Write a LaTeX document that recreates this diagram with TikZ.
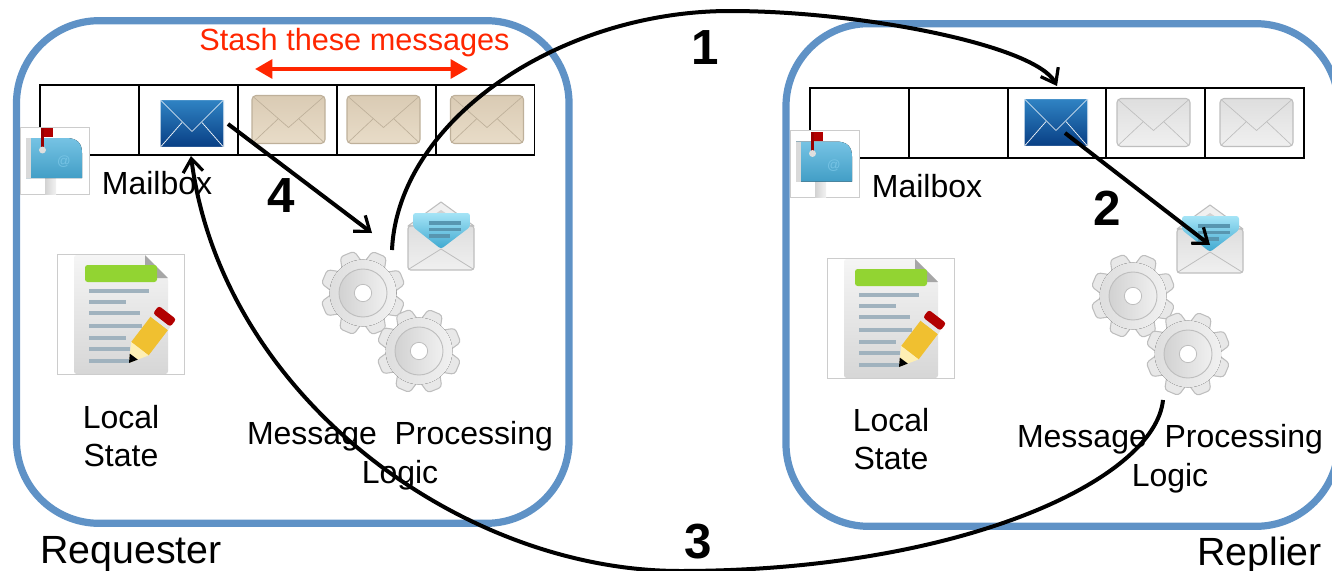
\documentclass[tikz,border=0pt]{standalone}
\usepackage{fontspec}
\setmainfont{Liberation Sans}
\usepackage{tikz}
\usetikzlibrary{arrows.meta,calc,positioning,shapes}
\definecolor{boxblue}{RGB}{95,146,198}
\definecolor{stashred}{RGB}{255,38,0}
\definecolor{beigeA}{RGB}{232,220,200}
\definecolor{beigeB}{RGB}{218,203,180}
\definecolor{beigeL}{RGB}{190,176,154}
\definecolor{greyA}{RGB}{240,240,240}
\definecolor{greyB}{RGB}{222,222,222}
\definecolor{greyL}{RGB}{190,190,190}
\definecolor{mailA}{RGB}{48,132,196}
\definecolor{mailB}{RGB}{8,62,132}
\definecolor{docline}{RGB}{160,178,190}
\definecolor{boxA}{RGB}{118,195,228}
\definecolor{boxB}{RGB}{66,158,198}
\definecolor{noteA}{RGB}{165,228,246}
\definecolor{noteB}{RGB}{62,168,208}
\definecolor{noteL}{RGB}{88,150,176}
\definecolor{barA}{RGB}{146,212,50}
\definecolor{penA}{RGB}{240,192,48}
\tikzset{
  procbox/.style={rectangle,draw=boxblue,line width=5.4pt,rounded corners=62pt,inner sep=0pt,minimum width=414.4pt,minimum height=377pt},
  cell/.style={rectangle,draw=black,line width=1.4pt,inner sep=0pt,minimum width=74.25pt,minimum height=52.5pt},
  lbl/.style={inner sep=0pt,align=center,font=\fontsize{24}{29}\selectfont},
  bigtxt/.style={inner sep=0pt,font=\fontsize{29.5}{34}\selectfont},
  numlbl/.style={inner sep=0pt,font=\fontsize{37}{40}\selectfont\bfseries},
  flow/.style={->,draw=black,line width=3pt,>={Straight Barb[length=10pt,width=15pt,line width=2.4pt]}},
  pics/mailicon/.style n args={5}{code={
    \draw[draw=#5,line width=0.8pt,top color=#3,bottom color=#4,rounded corners=#2] (-#1,-24) rectangle (#1,24);
    \draw[draw=#5,line width=0.5pt,line join=round] (-#1+1,-23) -- (0,8) -- (#1-1,-23);
    \draw[draw=#5,line width=0.5pt] (-#1+1,23) -- (-10,-1) (#1-1,23) -- (10,-1);
  }},
  pics/openletter/.style={code={
    \draw[draw=greyL,fill=greyA,line width=0.8pt,line join=round] (0,24) -- (33,0) -- (66,24) -- cycle;
    \fill[gray!35] (33,8) -- (24,14) -- (42,14) -- cycle;
    \draw[draw=greyL,top color=greyB,bottom color=greyA,line width=0.8pt,rounded corners=2pt] (0,24) rectangle (66,68);
    \draw[draw=none,top color=noteA,bottom color=noteB,rounded corners=2pt] (5,11) -- (62,11) -- (62,25) -- (33,47) -- (5,25) -- cycle;
    \draw[line width=2.4pt,draw=noteL] (21,21) -- (53,21) (21,27.5) -- (53,27.5) (21,34) -- (42,34);
    \draw[draw=greyL,line width=0.6pt] (1,67) -- (33,47) -- (65,67);
  }},
  pics/gear/.style={code={
    \foreach \a in {22,67,...,337}
      \draw[draw=greyL,fill=greyB!70!white,line width=0.8pt,rounded corners=2.5pt,rotate=\a] (28,-11) -- (42,-7.5) -- (42,7.5) -- (28,11) -- cycle;
    \fill[left color=greyB,right color=greyA] (0,0) circle (25pt);
    \draw[draw=greyL,line width=0.7pt,left color=greyL!70,right color=greyA] (0,0) circle (18pt);
    \draw[draw=greyL,line width=0.6pt,fill=white] (0,0) circle (6.5pt);
  }},
  pics/mailboxicon/.style={code={
    \draw[draw=gray!40,fill=white,line width=0.6pt] (0,0) rectangle (69,67);
    \fill[left color=gray!35,right color=gray!10] (25,50) rectangle (36,67);
    \fill[top color=boxA,bottom color=boxB] (6,11) -- (46,11) .. controls (58,11) and (62,17) .. (62,26) -- (62,51) -- (6,51) -- cycle;
    \fill[gray!30] (6,11) rectangle (11,51);
    \fill[red!70!black] (21,1) rectangle (33,10);
    \fill[red!60!black] (21,1) rectangle (24,20);
    \fill[gray!25] (22.5,23) circle (2.6pt);
    \node (at) [inner sep=0pt,text=boxA,font=\fontsize{10}{10}\selectfont] at (44,35) {@};
  }},
  pics/stateicon/.style={code={
    \draw[draw=gray!40,fill=white,line width=0.6pt] (0,0) rectangle (127,120);
    \draw[draw=none,top color=gray!8,bottom color=gray!32,rounded corners=2pt] (17,1) -- (88,1) -- (111,24) -- (111,120) -- (17,120) -- cycle;
    \fill[gray!70] (88,1) -- (111,24) -- (88,24) .. controls (88,14) .. (88,1);
    \fill[barA,rounded corners=2pt] (28,11) rectangle (100,28);
    \foreach \y/\l in {37/92,48/69,59/83,72/85,84/69,95/73,107/73}
      \draw[draw=docline,line width=3pt] (32,\y) -- (\l,\y);
    \fill[penA] (74.2,88) -- (93.6,62.6) -- (111,76) -- (91.6,101.4) -- cycle;
    \fill[yellow!20!white!90!orange] (74.2,88) -- (72,109) -- (91.6,101.4) -- cycle;
    \fill[black] (72.8,99.6) -- (72,109) -- (80.8,105.6) -- cycle;
    \fill[gray!20] (93.6,62.6) -- (96,59.4) -- (113.4,72.8) -- (111,76) -- cycle;
    \fill[red!70!black,rounded corners=2pt] (96,59.4) -- (101.8,51.8) -- (119.2,65.2) -- (113.4,72.8) -- cycle;
  }},
}
\begin{document}
\begin{tikzpicture}[x=0.75pt,y=-0.75pt]
   \useasboundingbox (0,0) rectangle (1332,571);
   \clip (0,0) rectangle (1332,571);
   % process boxes
   \node (reqbox) [procbox] at (292.75,272) {};
   \node (repbox) [procbox] at (1062.25,275) {};
   % mailbox rows
   \foreach \i/\x in {1/89.5,2/188.5,3/287.5,4/386.5,5/485}
     \node (reqcell\i) [cell] at (\x,120) {};
   \foreach \i/\x in {1/859.5,2/958.5,3/1057,4/1155.5,5/1254.5}
     \node (repcell\i) [cell] at (\x,123) {};
   % envelopes
   \pic at (192,123.5) {mailicon={32}{0.5pt}{mailA}{mailB}{white}};
   \foreach \x in {288.5,383.5,487}
     \pic at (\x,119.5) {mailicon={36.5}{3pt}{beigeB}{beigeA}{beigeL}};
   \pic at (1056,122.5) {mailicon={32}{0.5pt}{mailA}{mailB}{white}};
   \foreach \x in {1153.5,1256.5}
     \pic at (\x,122.5) {mailicon={36.5}{3pt}{greyB}{greyA}{greyL}};
   % icons
   \pic at (20,127) {mailboxicon};
   \pic at (790,130.5) {mailboxicon};
   \pic at (57,254) {stateicon};
   \pic at (827,258) {stateicon};
   \pic at (408,202) {openletter};
   \pic at (1177,205) {openletter};
   \pic at (363,293) {gear};
   \pic at (419,351) {gear};
   \pic at (1133,296) {gear};
   \pic at (1188,354) {gear};
   % labels
   \node (mbA) [lbl] at (157,183) {Mailbox};
   \node (mbB) [lbl] at (927,186) {Mailbox};
   \node (stA) [lbl] at (121,436) {Local\\State};
   \node (stB) [lbl] at (891,439) {Local\\State};
   \node (logA) [lbl] at (400,455.5) {Message\ \ Processing\\Logic};
   \node (logB) [lbl] at (1170,458.5) {Message\ \ Processing\\Logic};
   \node (req) [bigtxt] at (131,554) {Requester};
   \node (rep) [bigtxt] at (1259.5,555) {Replier};
   \node (stash) [lbl,text=stashred,font=\fontsize{23}{26}\selectfont] at (354.5,43) {Stash these messages};
   \node (n1) [numlbl] at (705,48) {1};
   \node (n2) [numlbl] at (1107,208) {2};
   \node (n3) [numlbl] at (698,542) {3};
   \node (n4) [numlbl] at (281,196) {4};
   % connector ends
   \coordinate (s1) at (392,250);
   \coordinate (e1) at (1057,86);
   \coordinate (s2) at (1065,133);
   \coordinate (e2) at (1210,245);
   \coordinate (s3) at (1163,400);
   \coordinate (e3) at (191,156);
   \coordinate (s4) at (228,124);
   \coordinate (e4) at (372,233);
   \coordinate (sa) at (255,69);
   \coordinate (sb) at (468,69);
   \draw [<->,draw=stashred,line width=3pt,>={Triangle[length=13pt,width=14pt]}] (sa) -- (sb);
   \begin{scope}[flow]
    \draw (s1) .. controls (398,120) and (560,11) .. (730,11) .. controls (860,11) and (1035,45) .. (e1);
    \draw (s2) -- (e2);
    \draw (s3) .. controls (1155,480) and (960,571) .. (680,571) .. controls (460,571) and (222,395) .. (e3);
    \draw (s4) -- (e4);
   \end{scope}
\end{tikzpicture}
\end{document}
